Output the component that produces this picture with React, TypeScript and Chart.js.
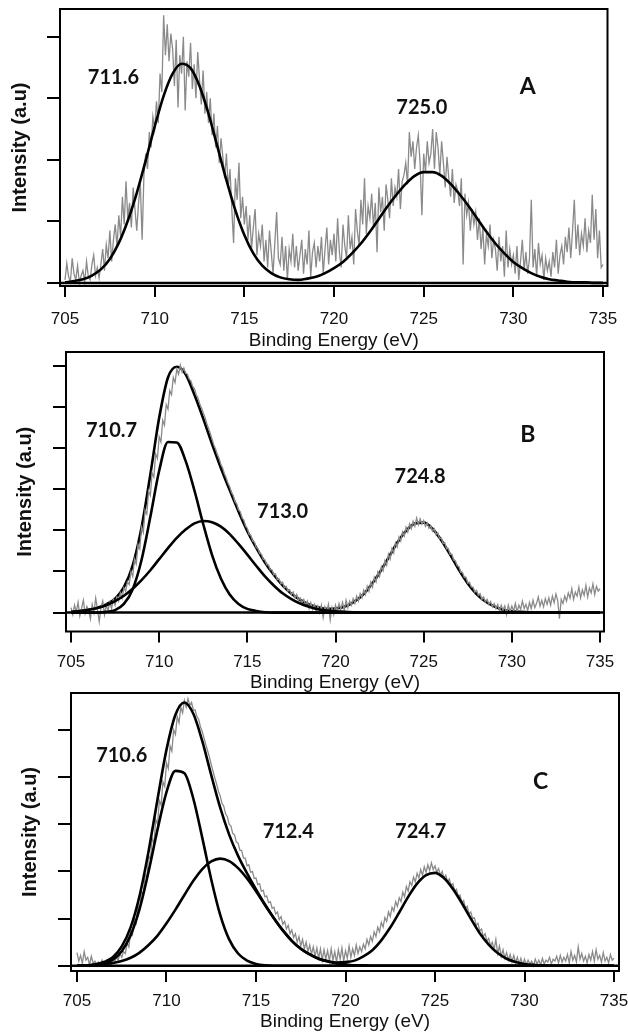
import { useEffect, useRef } from 'react';
import { Chart, registerables } from 'chart.js';

Chart.register(...registerables);

// ---------- shared axis data ----------
const energyTicks = [705, 710, 715, 720, 725, 730, 735];
const fitStart = 705;
const fitStep = 0.5;
const rawStart = 705;

// ---------- Panel A ----------
const aRawStep = 0.1;
const aRaw = [
  0.05, 0.32, 0.10, 0.02, 0.40, 0.15, 0.05, 0.28, 0.00, 0.12,
  0.20, 0.02, 0.35, 0.10, 0.05, 0.30, 0.45, 0.12, 0.25, 0.08,
  0.30, 0.55, 0.20, 0.62, 0.40, 0.85, 0.35, 0.70, 0.95, 0.60,
  1.10, 0.75, 1.40, 0.95, 1.65, 1.05, 1.30, 0.90, 1.55, 1.20,
  0.85, 1.30, 1.60, 0.70, 1.75, 2.10, 1.85, 2.45, 2.20, 2.70,
  2.50, 2.95, 2.60, 3.40, 3.10, 4.35, 3.70, 4.20, 3.60, 4.05,
  3.80, 3.20, 3.95, 2.85, 3.70, 3.40, 4.00, 2.80, 3.60, 3.35,
  3.90, 3.15, 3.55, 3.00, 3.75, 3.30, 2.90, 3.45, 2.75, 3.10,
  2.60, 3.00, 2.40, 2.75, 2.20, 2.55, 1.95, 2.35, 2.05, 1.70,
  2.10, 1.55, 1.85, 1.20, 0.65, 1.70, 1.35, 1.95, 1.05, 1.40,
  0.95, 1.25, 0.70, 1.10, 0.55, 0.90, 1.20, 0.45, 0.80, 0.60,
  0.95, 0.35, 0.70, 0.25, 0.85, 0.50, 0.15, 0.65, 1.15, 0.40,
  0.30, 0.75, 0.20, 0.60, 0.05, 0.55, 0.35, 0.80, 0.25, 0.60,
  0.20, 0.45, 0.70, 0.15, 0.55, 0.30, 0.85, 0.10, 0.50, 0.65,
  0.25, 0.60, 0.35, 0.75, 0.15, 0.55, 0.90, 0.30, 0.70, 0.45,
  0.80, 0.35, 1.05, 0.50, 0.25, 0.95, 0.60, 0.40, 1.10, 0.55,
  0.75, 0.30, 1.20, 0.85, 0.60, 1.35, 0.95, 1.70, 0.80, 1.25,
  1.05, 1.45, 0.90, 1.30, 0.50, 1.55, 1.15, 1.40, 0.85, 1.60,
  1.35, 1.05, 1.70, 1.25, 1.55, 1.40, 1.85, 1.20, 1.65, 1.75,
  1.95, 1.60, 2.45, 2.05, 2.30, 1.85, 2.20, 2.40, 1.95, 1.10,
  2.10, 1.80, 2.30, 1.95, 2.10, 2.50, 1.85, 2.45, 2.20, 1.75,
  2.30, 1.95, 1.55, 2.05, 1.70, 1.40, 1.85, 1.30, 1.60, 1.50,
  1.25, 1.70, 0.30, 1.45, 1.10, 1.30, 0.85, 1.20, 0.95, 1.15,
  0.70, 1.05, 0.55, 0.90, 0.30, 0.80, 0.60, 0.95, 0.40, 0.70,
  0.55, 0.20, 0.75, 0.35, 0.60, 0.10, 0.85, 0.25, 0.55, 0.30,
  0.45, 0.15, 0.60, 0.05, 0.35, 0.70, 0.20, 0.50, 0.15, 0.40,
  1.35, 0.25, 0.55, 0.10, 0.65, 0.30, 0.45, 0.05, 0.40, 0.20,
  0.35, 0.10, 0.50, 0.25, 0.70, 0.15, 0.45, 0.60, 0.30, 0.75,
  0.50, 0.90, 0.40, 0.85, 1.35, 0.55, 0.95, 0.45, 0.80, 0.60,
  1.05, 0.50, 0.85, 0.65, 1.43, 0.70, 1.20, 0.40, 0.85, 0.25,
  0.30,
];
const aFit = [
  0.01, 0.03, 0.06, 0.12, 0.22, 0.39, 0.65, 1.01, 1.46, 1.99,
  2.54, 3.04, 3.40, 3.56, 3.49, 3.20, 2.75, 2.21, 1.67, 1.18,
  0.78, 0.48, 0.28, 0.16, 0.09, 0.06, 0.05, 0.07, 0.10, 0.16,
  0.24, 0.34, 0.48, 0.64, 0.83, 1.04, 1.25, 1.44, 1.61, 1.74,
  1.80, 1.80, 1.74, 1.61, 1.44, 1.25, 1.04, 0.83, 0.64, 0.48,
  0.34, 0.24, 0.16, 0.10, 0.06, 0.04, 0.02, 0.01, 0.01, 0.00,
  0.00,
];
const aYTicks = [0, 1, 2, 3, 4];
const aPeakText = ['711.6', '725.0'];
const aPeakX = [707.7, 724.9];
const aPeakY = [3.33, 2.85];

// ---------- Panel B ----------
const bRawStep = 0.1;
const bRaw = [
  0.12, -0.05, 0.18, 0.02, 0.25, -0.08, 0.10, 0.30, -0.02, 0.15,
  0.05, -0.15, 0.20, 0.00, 0.35, 0.08, -0.22, 0.12, 0.28, -0.05,
  0.18, 0.05, 0.25, 0.10, 0.32, 0.18, 0.38, 0.28, 0.48, 0.35,
  0.60, 0.52, 0.75, 0.68, 1.00, 0.88, 1.30, 1.18, 1.66, 1.55,
  2.08, 1.95, 2.50, 2.40, 2.96, 2.85, 3.40, 3.30, 3.86, 3.75,
  4.28, 4.15, 4.68, 4.56, 5.06, 4.95, 5.40, 5.30, 5.72, 5.60,
  5.92, 5.80, 6.02, 5.85, 5.95, 5.82, 5.80, 5.68, 5.64, 5.50,
  5.45, 5.30, 5.22, 5.08, 4.98, 4.86, 4.75, 4.60, 4.48, 4.36,
  4.22, 4.08, 3.98, 3.85, 3.75, 3.60, 3.52, 3.38, 3.28, 3.15,
  3.06, 2.92, 2.85, 2.70, 2.64, 2.50, 2.45, 2.30, 2.25, 2.10,
  2.05, 1.90, 1.88, 1.74, 1.72, 1.58, 1.56, 1.44, 1.42, 1.30,
  1.28, 1.16, 1.16, 1.04, 1.04, 0.92, 0.94, 0.80, 0.82, 0.70,
  0.74, 0.60, 0.64, 0.52, 0.56, 0.44, 0.50, 0.36, 0.44, 0.30,
  0.36, 0.24, 0.32, 0.18, 0.28, 0.10, 0.24, 0.08, 0.20, 0.02,
  0.16, 0.00, 0.18, -0.12, 0.14, 0.02, 0.20, -0.18, 0.12, -0.05,
  0.18, 0.02, 0.22, 0.08, 0.25, 0.05, 0.30, 0.12, 0.28, 0.18,
  0.34, 0.22, 0.40, 0.28, 0.46, 0.36, 0.55, 0.44, 0.64, 0.52,
  0.74, 0.62, 0.86, 0.75, 0.99, 0.88, 1.12, 1.02, 1.26, 1.15,
  1.42, 1.30, 1.56, 1.45, 1.70, 1.60, 1.84, 1.74, 1.96, 1.86,
  2.08, 1.96, 2.16, 2.04, 2.22, 2.10, 2.30, 2.14, 2.28, 2.15,
  2.24, 2.10, 2.18, 2.05, 2.12, 1.98, 2.04, 1.90, 1.94, 1.80,
  1.82, 1.68, 1.70, 1.55, 1.56, 1.42, 1.42, 1.28, 1.26, 1.14,
  1.12, 0.98, 0.98, 0.86, 0.86, 0.72, 0.74, 0.62, 0.62, 0.50,
  0.54, 0.42, 0.46, 0.32, 0.38, 0.26, 0.32, 0.20, 0.27, 0.14,
  0.22, 0.10, 0.20, 0.04, 0.18, 0.06, 0.16, -0.05, 0.18, 0.02,
  0.16, 0.04, 0.22, 0.02, 0.18, 0.08, 0.28, 0.10, 0.20, 0.05,
  0.25, 0.10, 0.30, 0.12, 0.22, 0.38, 0.16, 0.30, 0.14, 0.34,
  0.20, 0.36, 0.18, 0.40, 0.24, 0.45, 0.30, -0.15, 0.32, 0.22,
  0.40, 0.28, 0.48, 0.35, 0.58, 0.32, 0.50, 0.40, 0.62, 0.36,
  0.55, 0.42, 0.66, 0.38, 0.60, 0.48, 0.70, 0.44, 0.64, 0.52,
  0.58,
];
const bEnvelope = [
  0.02, 0.04, 0.07, 0.12, 0.20, 0.34, 0.62, 1.15, 2.07, 3.36,
  4.74, 5.72, 5.98, 5.80, 5.30, 4.72, 4.10, 3.52, 2.98, 2.46,
  1.98, 1.58, 1.22, 0.92, 0.66, 0.46, 0.31, 0.20, 0.13, 0.09,
  0.10, 0.14, 0.25, 0.41, 0.66, 0.97, 1.33, 1.70, 1.99, 2.17,
  2.19, 2.04, 1.76, 1.41, 1.04, 0.71, 0.45, 0.27, 0.15, 0.07,
  0.03, 0.02, 0.01, 0.00, 0.00, 0.00, 0.00, 0.00, 0.00, 0.00,
  0.00,
];
const bPeak1 = [
  0.00, 0.00, 0.00, 0.00, 0.02, 0.06, 0.21, 0.57, 1.28, 2.33,
  3.45, 4.15, 4.14, 3.69, 2.97, 2.15, 1.40, 0.83, 0.44, 0.21,
  0.09, 0.04, 0.01, 0.00, 0.00, 0.00, 0.00, 0.00, 0.00, 0.00,
  0.00, 0.00, 0.00, 0.00, 0.00, 0.00, 0.00, 0.00, 0.00, 0.00,
  0.00, 0.00, 0.00, 0.00, 0.00, 0.00, 0.00, 0.00, 0.00, 0.00,
  0.00, 0.00, 0.00, 0.00, 0.00, 0.00, 0.00, 0.00, 0.00, 0.00,
  0.00,
];
const bPeak2 = [
  0.02, 0.04, 0.07, 0.11, 0.18, 0.28, 0.41, 0.58, 0.79, 1.03,
  1.30, 1.57, 1.82, 2.02, 2.17, 2.23, 2.20, 2.09, 1.91, 1.67,
  1.41, 1.14, 0.88, 0.66, 0.47, 0.33, 0.22, 0.14, 0.08, 0.05,
  0.03, 0.02, 0.01, 0.00, 0.00, 0.00, 0.00, 0.00, 0.00, 0.00,
  0.00, 0.00, 0.00, 0.00, 0.00, 0.00, 0.00, 0.00, 0.00, 0.00,
  0.00, 0.00, 0.00, 0.00, 0.00, 0.00, 0.00, 0.00, 0.00, 0.00,
  0.00,
];
const bYTicks = [0, 1, 2, 3, 4, 5, 6];
const bPeakText = ['710.7', '713.0', '724.8'];
const bPeakX = [707.3, 717.0, 724.8];
const bPeakY = [4.44, 2.46, 3.32];

// ---------- Panel C ----------
const cRawStep = 0.1;
const cRaw = [
  0.28, 0.10, 0.22, 0.05, 0.30, 0.12, 0.18, 0.02, 0.20, 0.06,
  0.10, 0.00, 0.08, 0.02, 0.12, 0.00, 0.06, 0.04, 0.10, 0.02,
  0.14, 0.08, 0.18, 0.12, 0.26, 0.18, 0.30, 0.26, 0.48, 0.40,
  0.74, 0.66, 0.98, 0.90, 1.28, 1.20, 1.58, 1.50, 1.94, 1.86,
  2.34, 2.25, 2.70, 2.60, 3.10, 3.00, 3.50, 3.40, 3.90, 3.80,
  4.30, 4.18, 4.66, 4.55, 5.00, 4.90, 5.28, 5.15, 5.48, 5.36,
  5.62, 5.48, 5.66, 5.52, 5.58, 5.42, 5.42, 5.28, 5.22, 5.06,
  4.96, 4.82, 4.68, 4.55, 4.42, 4.26, 4.12, 3.98, 3.85, 3.70,
  3.60, 3.44, 3.38, 3.22, 3.16, 3.00, 2.96, 2.80, 2.78, 2.62,
  2.60, 2.45, 2.44, 2.28, 2.28, 2.12, 2.14, 1.98, 2.00, 1.85,
  1.86, 1.72, 1.74, 1.58, 1.60, 1.46, 1.48, 1.34, 1.36, 1.22,
  1.24, 1.10, 1.14, 0.98, 1.04, 0.88, 0.94, 0.78, 0.86, 0.68,
  0.76, 0.60, 0.68, 0.50, 0.62, 0.42, 0.56, 0.36, 0.50, 0.30,
  0.44, 0.24, 0.40, 0.20, 0.38, 0.16, 0.36, 0.12, 0.34, 0.14,
  0.32, 0.10, 0.36, 0.12, 0.30, 0.08, 0.34, 0.14, 0.38, 0.10,
  0.32, 0.16, 0.42, 0.18, 0.36, 0.22, 0.44, 0.26, 0.40, 0.30,
  0.46, 0.36, 0.56, 0.44, 0.62, 0.52, 0.72, 0.62, 0.82, 0.72,
  0.92, 0.82, 1.02, 0.94, 1.14, 1.04, 1.24, 1.16, 1.36, 1.26,
  1.44, 1.36, 1.56, 1.46, 1.68, 1.58, 1.78, 1.70, 1.88, 1.78,
  1.96, 1.86, 2.04, 1.92, 2.10, 1.98, 2.14, 2.02, 2.18, 2.04,
  2.12, 1.98, 2.06, 1.92, 2.00, 1.86, 1.92, 1.78, 1.84, 1.70,
  1.74, 1.58, 1.62, 1.46, 1.50, 1.34, 1.38, 1.22, 1.26, 1.10,
  1.14, 1.00, 1.02, 0.86, 0.90, 0.74, 0.78, 0.62, 0.68, 0.52,
  0.58, 0.42, 0.50, 0.34, 0.56, 0.26, 0.42, 0.20, 0.34, 0.16,
  0.28, 0.12, 0.24, 0.08, 0.22, 0.06, 0.18, 0.04, 0.16, 0.02,
  0.14, 0.02, 0.12, 0.04, 0.10, 0.00, 0.14, 0.04, 0.12, 0.02,
  0.16, 0.04, 0.12, 0.08, 0.18, 0.04, 0.14, 0.10, 0.20, 0.06,
  0.22, 0.08, 0.18, 0.10, 0.24, 0.06, 0.30, 0.12, 0.22, 0.08,
  0.40, 0.14, 0.26, 0.10, 0.20, 0.06, 0.24, 0.12, 0.30, 0.10,
  0.34, 0.14, 0.22, 0.08, 0.28, 0.10, 0.18, 0.06, 0.24, 0.12,
  0.16,
];
const cEnvelope = [
  0.00, 0.01, 0.03, 0.08, 0.18, 0.41, 0.82, 1.49, 2.43, 3.53,
  4.58, 5.32, 5.58, 5.34, 4.76, 4.04, 3.35, 2.78, 2.33, 1.96,
  1.62, 1.30, 1.01, 0.75, 0.53, 0.36, 0.24, 0.15, 0.10, 0.07,
  0.08, 0.11, 0.20, 0.33, 0.54, 0.81, 1.13, 1.46, 1.74, 1.92,
  1.97, 1.86, 1.63, 1.33, 1.00, 0.69, 0.45, 0.27, 0.15, 0.08,
  0.04, 0.02, 0.01, 0.00, 0.00, 0.00, 0.00, 0.00, 0.00, 0.00,
  0.00,
];
const cPeak1 = [
  0.00, 0.00, 0.02, 0.05, 0.13, 0.31, 0.65, 1.21, 2.00, 2.89,
  3.68, 4.13, 4.08, 3.54, 2.71, 1.83, 1.08, 0.56, 0.26, 0.11,
  0.04, 0.01, 0.00, 0.00, 0.00, 0.00, 0.00, 0.00, 0.00, 0.00,
  0.00, 0.00, 0.00, 0.00, 0.00, 0.00, 0.00, 0.00, 0.00, 0.00,
  0.00, 0.00, 0.00, 0.00, 0.00, 0.00, 0.00, 0.00, 0.00, 0.00,
  0.00, 0.00, 0.00, 0.00, 0.00, 0.00, 0.00, 0.00, 0.00, 0.00,
  0.00,
];
const cPeak2 = [
  0.00, 0.01, 0.01, 0.03, 0.06, 0.10, 0.17, 0.28, 0.44, 0.64,
  0.90, 1.19, 1.50, 1.80, 2.05, 2.21, 2.27, 2.22, 2.07, 1.85,
  1.58, 1.29, 1.01, 0.75, 0.53, 0.36, 0.24, 0.15, 0.09, 0.05,
  0.03, 0.01, 0.01, 0.00, 0.00, 0.00, 0.00, 0.00, 0.00, 0.00,
  0.00, 0.00, 0.00, 0.00, 0.00, 0.00, 0.00, 0.00, 0.00, 0.00,
  0.00, 0.00, 0.00, 0.00, 0.00, 0.00, 0.00, 0.00, 0.00, 0.00,
  0.00,
];
const cYTicks = [0, 1, 2, 3, 4, 5];
const cPeakText = ['710.6', '712.4', '724.7'];
const cPeakX = [707.5, 716.8, 724.2];
const cPeakY = [4.45, 2.84, 2.84];

// ---------- styling ----------
const GRAY = '#8a8a8a';
const INK = '#111111';
const AXIS_FONT = "'Liberation Sans', Arial, sans-serif";
const NOTE_FONT = "Lato, 'Open Sans', sans-serif";

type Curve = { values: number[]; order: number };
type PanelCfg = {
  top: number;
  height: number;
  padTop: number;
  padRight: number;
  yWidth: number;
  xHeight: number;
  tickPad: number;
  yTitlePad: number;
  xMin: number;
  xMax: number;
  yMin: number;
  yMax: number;
  yTicks: number[];
  raw: number[];
  rawStep: number;
  rawOrder: number;
  curves: Curve[];
  peakText: string[];
  peakX: number[];
  peakY: number[];
  letter: string;
  letterX: number;
  letterY: number;
};

const panels: PanelCfg[] = [
  {
    top: 0, height: 352, padTop: 9, padRight: 20.5, yWidth: 60, xHeight: 66,
    tickPad: 12.5, yTitlePad: 8,
    xMin: 704.72, xMax: 735.25, yMin: -0.05, yMax: 4.45, yTicks: aYTicks,
    raw: aRaw, rawStep: aRawStep, rawOrder: 1,
    curves: [{ values: aFit, order: 0 }],
    peakText: aPeakText, peakX: aPeakX, peakY: aPeakY,
    letter: 'A', letterX: 730.8, letterY: 3.19,
  },
  {
    top: 346, height: 348, padTop: 6, padRight: 24, yWidth: 66, xHeight: 62.5,
    tickPad: 10, yTitlePad: 13,
    xMin: 704.716, xMax: 735.227, yMin: -0.46, yMax: 6.34, yTicks: bYTicks,
    raw: bRaw, rawStep: bRawStep, rawOrder: 1,
    curves: [
      { values: bEnvelope, order: 2 },
      { values: bPeak1, order: 0 },
      { values: bPeak2, order: 0 },
    ],
    peakText: bPeakText, peakX: bPeakX, peakY: bPeakY,
    letter: 'B', letterX: 730.9, letterY: 4.34,
  },
  {
    top: 687, height: 346, padTop: 6, padRight: 9, yWidth: 71, xHeight: 62,
    tickPad: 9.5, yTitlePad: 18,
    xMin: 704.665, xMax: 735.279, yMin: -0.11, yMax: 5.78, yTicks: cYTicks,
    raw: cRaw, rawStep: cRawStep, rawOrder: 1,
    curves: [
      { values: cEnvelope, order: 0 },
      { values: cPeak1, order: 0 },
      { values: cPeak2, order: 0 },
    ],
    peakText: cPeakText, peakX: cPeakX, peakY: cPeakY,
    letter: 'C', letterX: 730.9, letterY: 3.9,
  },
];

function toPoints(values: number[], start: number, step: number) {
  return values.map((v, i) => ({ x: +(start + i * step).toFixed(3), y: v }));
}

function Panel({ cfg }: { cfg: PanelCfg }) {
  const ref = useRef<HTMLCanvasElement>(null);

  useEffect(() => {
    const canvas = ref.current;
    if (!canvas) return;

    const framePlugin = {
      id: 'xpsFrame',
      afterDatasetsDraw(chart: any) {
        const { ctx, chartArea, scales } = chart;
        const { left, top, right, bottom } = chartArea;
        const xs = scales.x;
        const ys = scales.y;
        ctx.save();
        const y0 = ys.getPixelForValue(0);
        ctx.strokeStyle = '#000';
        ctx.lineWidth = 2.5;
        ctx.beginPath();
        ctx.moveTo(left, y0);
        ctx.lineTo(right, y0);
        ctx.stroke();
        ctx.lineWidth = 2;
        ctx.strokeRect(left, top, right - left, bottom - top);
        ctx.fillStyle = INK;
        ctx.textAlign = 'center';
        ctx.textBaseline = 'middle';
        ctx.font = `bold 20px ${NOTE_FONT}`;
        cfg.peakText.forEach((t, i) => {
          ctx.fillText(t, xs.getPixelForValue(cfg.peakX[i]), ys.getPixelForValue(cfg.peakY[i]));
        });
        ctx.font = `bold 23px ${NOTE_FONT}`;
        ctx.fillText(cfg.letter, xs.getPixelForValue(cfg.letterX), ys.getPixelForValue(cfg.letterY));
        ctx.restore();
      },
    };

    const datasets: any[] = [
      {
        data: toPoints(cfg.raw, rawStart, cfg.rawStep),
        borderColor: GRAY,
        borderWidth: 1.3,
        pointRadius: 0,
        tension: 0,
        order: cfg.rawOrder,
      },
      ...cfg.curves.map((c) => ({
        data: toPoints(c.values, fitStart, fitStep),
        borderColor: '#000',
        borderWidth: 2.6,
        pointRadius: 0,
        cubicInterpolationMode: 'monotone',
        order: c.order,
      })),
    ];

    const chart = new Chart(canvas, {
      type: 'line',
      data: { datasets },
      plugins: [framePlugin],
      options: {
        responsive: false,
        animation: false,
        events: [],
        layout: { padding: { top: cfg.padTop, right: cfg.padRight, left: 0, bottom: 0 } },
        plugins: { legend: { display: false }, tooltip: { enabled: false } },
        scales: {
          x: {
            type: 'linear',
            min: cfg.xMin,
            max: cfg.xMax,
            afterBuildTicks: (scale: any) => {
              scale.ticks = energyTicks.map((v) => ({ value: v }));
            },
            afterFit: (scale: any) => {
              scale.height = cfg.xHeight;
              scale.paddingLeft = 0;
              scale.paddingRight = 0;
            },
            border: { display: false },
            grid: {
              display: true,
              drawOnChartArea: false,
              drawTicks: true,
              tickLength: 11,
              tickWidth: 2,
              tickColor: '#000',
              color: '#000',
              lineWidth: 2,
            },
            ticks: {
              autoSkip: false,
              maxRotation: 0,
              padding: cfg.tickPad,
              color: INK,
              font: { family: AXIS_FONT, size: 17 },
              callback: (v: any) => String(v),
            },
            title: {
              display: true,
              text: 'Binding Energy (eV)',
              color: INK,
              font: { family: AXIS_FONT, size: 19 },
              padding: { top: 0, bottom: 0 },
            },
          },
          y: {
            type: 'linear',
            min: cfg.yMin,
            max: cfg.yMax,
            afterBuildTicks: (scale: any) => {
              scale.ticks = cfg.yTicks.map((v) => ({ value: v }));
            },
            afterFit: (scale: any) => {
              scale.width = cfg.yWidth;
              scale.paddingTop = 0;
              scale.paddingBottom = 0;
            },
            border: { display: false },
            grid: {
              display: true,
              drawOnChartArea: false,
              drawTicks: true,
              tickLength: 13,
              tickWidth: 2,
              tickColor: '#000',
              color: '#000',
              lineWidth: 2,
            },
            ticks: { display: false },
            title: {
              display: true,
              text: 'Intensity (a.u)',
              color: INK,
              font: { family: AXIS_FONT, size: 20, weight: 'bold' },
              padding: { top: cfg.yTitlePad, bottom: 0 },
            },
          },
        },
      } as any,
    });

    return () => chart.destroy();
  }, [cfg]);

  return (
    <canvas
      ref={ref}
      width={628}
      height={cfg.height}
      style={{ position: 'absolute', left: 0, top: cfg.top, display: 'block' }}
    />
  );
}

export default function App() {
  return (
    <div style={{ position: 'absolute', left: 0, top: 0, width: 628, height: 1033, background: '#fff' }}>
      {panels.map((p, i) => (
        <Panel key={i} cfg={p} />
      ))}
    </div>
  );
}
